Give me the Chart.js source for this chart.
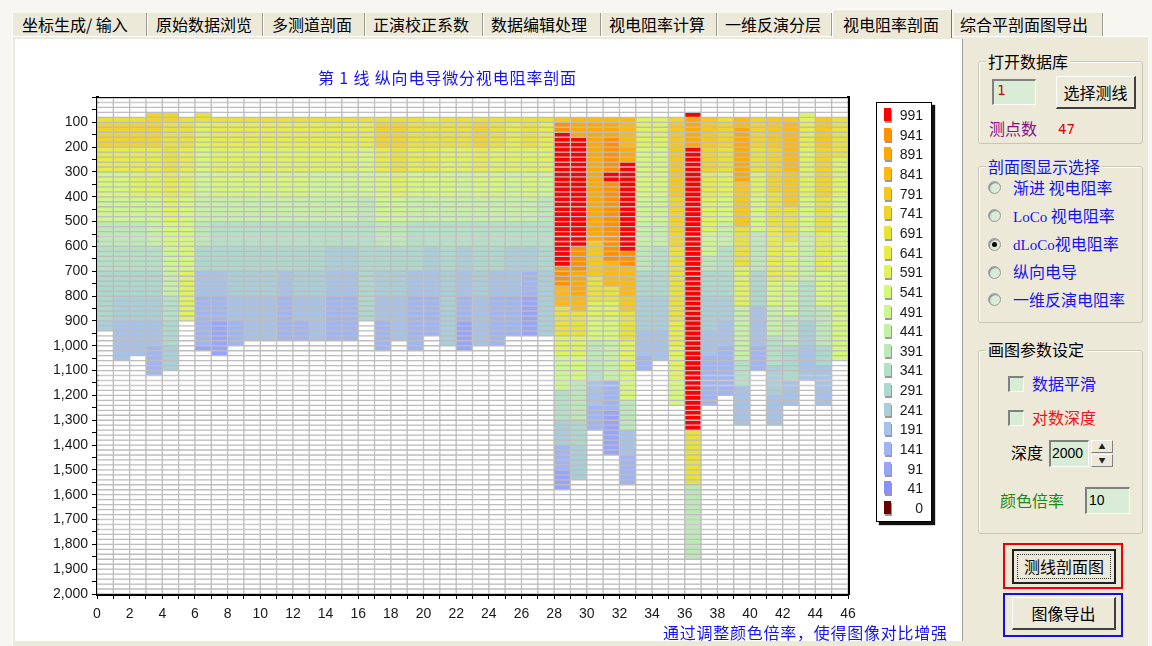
<!DOCTYPE html>
<html><head><meta charset="utf-8">
<script src="https://cdn.jsdelivr.net/npm/chart.js@4.4.1/dist/chart.umd.min.js"></script>
<style>
html,body{margin:0;padding:0}
body{width:1152px;height:646px;background:#F7F6F1;position:relative;overflow:hidden;font-family:"Noto Sans CJK SC","Noto Sans",sans-serif;font-size:16px;color:#000}
.a{position:absolute;white-space:nowrap}
.tab{position:absolute;top:13px;height:23px;line-height:22px;font-size:16px;border-right:1px solid #9A9A90;box-shadow:1px 0 0 #fff;text-align:left}
.tabact{position:absolute;top:9px;height:29px;line-height:28px;font-size:16px;background:#ECE9D8;border:1px solid #fff;border-right:1px solid #777;border-bottom:none;z-index:3}
.grp{position:absolute;border:1px solid #C8C6B8;border-radius:3px;box-shadow:inset 1px 1px 0 #fff}
.gt{position:absolute;background:#ECE9D8;padding:0 2px;line-height:18px}
.inp{position:absolute;background:#D8ECD6;border-top:2px solid #808080;border-left:2px solid #808080;border-bottom:1px solid #fff;border-right:1px solid #fff;box-sizing:border-box}
.btn{position:absolute;background:#ECE9D8;border-top:1px solid #fff;border-left:1px solid #fff;border-right:2px solid #404040;border-bottom:2px solid #404040;box-sizing:border-box;text-align:center}
.sbtn{position:absolute;background:#ECE9D8;border-top:1px solid #fff;border-left:1px solid #fff;border-right:1px solid #808080;border-bottom:1px solid #808080;box-sizing:border-box;text-align:center;font-size:7px;line-height:11px;color:#222}
.rad{position:absolute;width:13px;height:13px;border-radius:50%;background:#D8ECD6;border:1px solid #9A9A9A;box-sizing:border-box;box-shadow:inset 1px 1px 1px #888}
.chk{position:absolute;width:16px;height:16px;background:#D8ECD6;border-top:2px solid #808080;border-left:2px solid #808080;border-bottom:1px solid #fff;border-right:1px solid #fff;box-sizing:border-box}
.lg{position:absolute;font-family:"Liberation Sans",Arial,sans-serif;font-size:14px;color:#1a1a1a;text-align:right;width:36px;line-height:16px}
.sw{position:absolute;width:7px;height:13px;box-shadow:1px 2px 0 #9a9a9a}
</style></head>
<body>
<!-- tab strip -->
<div class="a" style="left:12px;top:36px;width:1135px;height:610px;background:#ECE9D8;border-top:1px solid #fff;border-left:1px solid #fff"></div>
<div class="tab" style="left:12px;width:135px;background:#ECE9D8;border-left:1px solid #fff;padding-left:9px;box-sizing:border-box">坐标生成/ 输入</div>
<div class="tab" style="left:148px;width:115px;background:#ECE9D8;padding-left:8px;box-sizing:border-box">原始数据浏览</div>
<div class="tab" style="left:264px;width:101px;background:#ECE9D8;padding-left:8px;box-sizing:border-box">多测道剖面</div>
<div class="tab" style="left:366px;width:117px;background:#ECE9D8;padding-left:7px;box-sizing:border-box">正演校正系数</div>
<div class="tab" style="left:484px;width:117px;background:#ECE9D8;padding-left:7px;box-sizing:border-box">数据编辑处理</div>
<div class="tab" style="left:602px;width:115px;background:#ECE9D8;padding-left:7px;box-sizing:border-box">视电阻率计算</div>
<div class="tab" style="left:718px;width:114px;background:#ECE9D8;padding-left:7px;box-sizing:border-box">一维反演分层</div>
<div class="tabact" style="left:832px;width:120px;padding-left:10px;box-sizing:border-box">视电阻率剖面</div>
<div class="tab" style="left:954px;width:149px;background:#ECE9D8;padding-left:6px;box-sizing:border-box">综合平剖面图导出</div>

<!-- chart panel -->
<div class="a" style="left:15px;top:39px;width:947px;height:602px;background:#fff">
  <canvas id="c" width="947" height="602" style="position:absolute;left:0;top:0"></canvas>
</div>
<div class="a" style="left:962px;top:39px;width:1px;height:602px;background:#A0A0A0"></div>
<div class="a" id="title" style="left:318px;top:67px;font-size:16px;line-height:20px;letter-spacing:0.85px;color:#1414F0">第 1 线 纵向电导微分视电阻率剖面</div>
<div class="a" style="left:663px;top:622px;font-size:16px;line-height:20px;letter-spacing:0.75px;color:#1414F0">通过调整颜色倍率，使得图像对比增强</div>
<div class="a" id="legend" style="left:876px;top:102px;width:54px;height:418px;background:#fff;border:1px solid #000;box-shadow:3px 3px 1px #111"></div>

<!-- right panel -->
<div class="grp" style="left:978px;top:61px;width:163px;height:81px"></div>
<div class="gt" style="left:986px;top:52px">打开数据库</div>
<div class="inp" style="left:992px;top:79px;width:44px;height:26px"><span style="position:absolute;left:3px;top:1px;color:#E00000;font-family:'DejaVu Sans Mono',monospace;font-size:14px">1</span></div>
<div class="btn" style="left:1056px;top:76px;width:80px;height:33px;line-height:30px">选择测线</div>
<div class="a" style="left:989px;top:118px;color:#8B0B8B;line-height:20px">测点数</div>
<div class="a" style="left:1058px;top:119px;color:#E00000;font-family:'DejaVu Sans Mono',monospace;font-size:14px;line-height:20px">47</div>

<div class="grp" style="left:978px;top:166px;width:163px;height:155px"></div>
<div class="gt" style="left:986px;top:157px;color:#1414F0">剖面图显示选择</div>
<div class="rad" style="left:988px;top:181px"></div>
<div class="a" style="left:1013px;top:177px;color:#1414F0;line-height:20px">渐进 视电阻率</div>
<div class="rad" style="left:988px;top:209px"></div>
<div class="a" style="left:1013px;top:205px;color:#1414F0;line-height:20px"><span style="font-family:'Liberation Serif',serif;font-size:15px">LoCo</span> 视电阻率</div>
<div class="rad" style="left:988px;top:238px"><div style="position:absolute;left:3px;top:3px;width:5px;height:5px;border-radius:50%;background:#000"></div></div>
<div class="a" style="left:1013px;top:233px;color:#1414F0;line-height:20px"><span style="font-family:'Liberation Serif',serif;font-size:15px">dLoCo</span>视电阻率</div>
<div class="rad" style="left:988px;top:266px"></div>
<div class="a" style="left:1013px;top:261px;color:#1414F0;line-height:20px">纵向电导</div>
<div class="rad" style="left:988px;top:293px"></div>
<div class="a" style="left:1013px;top:289px;color:#1414F0;line-height:20px">一维反演电阻率</div>

<div class="grp" style="left:978px;top:350px;width:163px;height:182px"></div>
<div class="gt" style="left:986px;top:340px">画图参数设定</div>
<div class="chk" style="left:1008px;top:376px"></div>
<div class="a" style="left:1032px;top:373px;color:#1414F0;line-height:20px">数据平滑</div>
<div class="chk" style="left:1008px;top:410px"></div>
<div class="a" style="left:1032px;top:407px;color:#F01414;line-height:20px">对数深度</div>
<div class="a" style="left:1011px;top:442px;line-height:20px">深度</div>
<div class="inp" style="left:1049px;top:440px;width:40px;height:27px"><span style="position:absolute;left:1px;top:3px;font-family:'Liberation Sans',Arial,sans-serif;font-size:14px">2000</span></div>
<div class="sbtn" style="left:1091px;top:440px;width:22px;height:13px">▲</div>
<div class="sbtn" style="left:1091px;top:454px;width:22px;height:13px">▼</div>
<div class="a" style="left:1000px;top:490px;color:#1A8A1A;line-height:20px">颜色倍率</div>
<div class="inp" style="left:1085px;top:487px;width:45px;height:27px"><span style="position:absolute;left:2px;top:3px;font-family:'Liberation Sans',Arial,sans-serif;font-size:14px">10</span></div>

<div class="a" style="left:1003px;top:543px;width:116px;height:42px;border:2px solid #F00000"></div>
<div class="btn" style="left:1012px;top:549px;width:104px;height:35px;border:2px solid #202020;line-height:30px"><div style="position:absolute;left:3px;top:3px;right:3px;bottom:3px;border:1px dotted #333"></div>测线剖面图</div>
<div class="a" style="left:1003px;top:593px;width:116px;height:40px;border:2px solid #1010E0"></div>
<div class="btn" style="left:1012px;top:597px;width:104px;height:33px;line-height:30px">图像导出</div>

<script>
// ---------- data ----------
const stations = [0,1,2,3,4,5,6,7,8,9,10,11,12,13,14,15,16,17,18,19,20,21,22,23,24,25,26,27,28,29,30,31,32,33,34,35,36,37,38,39,40,41,42,43,44,45];
const topDepth = [80,80,80,60,60,80,60,80,80,80,80,80,80,80,80,80,80,80,80,80,80,80,80,80,80,80,80,80,80,80,80,80,80,80,80,80,70,80,80,80,80,80,80,60,80,80];
const bottomDepth = [940,1055,1050,1120,1105,895,1025,1040,1005,980,980,980,980,980,980,980,910,1020,990,1015,955,1000,1015,1005,1000,960,970,970,1590,1550,1345,1445,1560,1110,1055,1240,1860,1250,1200,1330,1105,1320,1245,1135,1240,1060];
// segment start depths per station
const segStarts = [
 [80,100,200,300,400,500,600,700,800,900],
 [80,100,200,300,400,500,600,700,800,900,1000],
 [80,100,200,300,400,500,600,700,800,900,1000],
 [60,100,200,300,400,500,600,700,800,900,1000,1100],
 [60,100,200,300,400,500,600,700,800,900,1000,1100],
 [80,100,200,300,400,500,600,700,800],
 [60,100,200,300,400,500,600,700,800,900,1000],
 [80,100,200,300,400,500,600,700,800,900,1000],
 [80,100,200,300,400,500,600,700,800,900,1000],
 [80,100,200,300,400,500,600,700,800,900],
 [80,100,200,300,400,500,600,700,800,900],
 [80,100,200,300,400,500,600,700,800,900],
 [80,100,200,300,400,500,600,700,800,900],
 [80,100,200,300,400,500,600,700,800,900],
 [80,100,200,300,400,500,600,700,800,900],
 [80,100,200,300,400,500,600,700,800,900],
 [80,100,200,300,400,500,600,700,800,900],
 [80,100,200,300,400,500,600,700,800,900,1000],
 [80,100,200,300,400,500,600,700,800,900],
 [80,100,200,300,400,500,600,700,800,900,1000],
 [80,100,200,300,400,500,600,700,800,900],
 [80,100,200,300,400,500,600,700,800,900],
 [80,100,200,300,400,500,600,700,800,900,1000],
 [80,100,200,300,400,500,600,700,800,900,1000],
 [80,100,200,300,400,500,600,700,800,900],
 [80,100,200,300,400,500,600,700,800,900],
 [80,100,200,300,400,500,600,700,800,900],
 [80,100,200,300,400,500,600,700,800,900],
 [80,100,145,680,760,850,960,1040,1180,1300,1400,1500],
 [80,100,170,600,700,800,860,960,1050,1140,1310,1400],
 [80,100,590,720,820,900,990,1100,1150,1250],
 [80,100,170,300,345,670,760,830,900,980,1150,1270],
 [80,200,265,615,690,800,855,975,1100,1215,1340,1450],
 [80,200,400,500,600,700,800,950,1050],
 [80,200,400,500,600,700,800,950],
 [80,100,400,600,900,1000,1150],
 [70,90,205,1340,1560],
 [80,200,300,400,550,650,700,800,950,1050],
 [80,100,200,300,400,500,600,700,800,900,1000],
 [80,120,350,530,690,850,1060,1170],
 [80,200,300,400,550,700,850,1000],
 [80,200,390,530,740,850,960,1090,1200],
 [80,100,310,450,580,740,880,1010,1140],
 [60,100,200,400,550,750,900,1000],
 [80,200,400,550,700,850,1000,1080],
 [80,250,400]
];
// apparent resistivity of each segment
const segValues = [
 [691,741,641,541,491,391,341,291,291,241],
 [691,741,641,541,491,391,341,291,241,191,191],
 [691,741,641,591,491,391,341,291,241,191,191],
 [741,741,641,591,491,441,341,291,241,191,141,141],
 [741,691,691,641,591,541,491,441,341,291,241,241],
 [691,691,641,591,541,541,541,591,591],
 [691,591,541,491,441,391,291,191,141,141,91],
 [691,641,591,541,441,341,291,191,141,91,91],
 [691,641,591,541,441,341,291,241,191,141,141],
 [691,641,591,541,441,341,291,241,191,191],
 [691,641,591,541,441,341,291,241,191,191],
 [691,641,591,541,441,341,291,191,141,141],
 [691,641,591,541,441,341,291,241,191,141],
 [691,641,591,491,441,341,291,241,191,191],
 [691,641,591,491,441,341,241,191,141,141],
 [691,641,591,491,441,341,241,191,141,141],
 [691,641,541,491,391,341,291,291,291,291],
 [691,741,641,541,491,391,291,241,191,141,141],
 [691,741,691,591,491,391,291,241,191,191],
 [691,691,641,541,441,341,291,191,141,141,141],
 [641,691,641,541,441,341,241,191,141,141],
 [691,691,591,541,441,341,291,241,241,241],
 [691,691,591,491,441,341,241,191,141,91,91],
 [691,741,641,541,441,341,291,241,191,191,191],
 [691,691,591,541,441,341,291,191,141,141],
 [691,641,591,491,441,341,241,191,141,141],
 [691,691,591,541,441,341,241,141,91,91],
 [691,641,591,491,391,341,291,241,241,241],
 [791,941,1000,941,841,691,591,491,341,241,141,91],
 [841,891,1000,941,891,841,691,591,541,391,291,241],
 [841,891,791,691,591,541,391,341,191,141],
 [841,891,941,1000,941,841,691,591,541,441,141,91],
 [841,891,1000,941,841,791,691,591,541,391,191,141],
 [591,541,491,441,391,291,241,191,141],
 [591,541,491,441,341,291,241,191],
 [741,791,741,691,641,591,541],
 [1000,891,1000,691,391],
 [791,741,641,591,491,391,291,241,191,141],
 [691,741,691,591,541,441,341,291,241,191,141],
 [841,891,791,691,591,441,341,191],
 [741,691,591,541,391,291,191,141],
 [791,741,691,641,541,441,341,241,191],
 [791,841,791,691,591,491,391,291,191],
 [591,641,591,541,441,341,241,191],
 [791,741,691,641,541,391,291,191],
 [691,591,541]
];
const legendLevels = [991,941,891,841,791,741,691,641,591,541,491,441,391,341,291,241,191,141,91,41,0];
const legendColors = ['#FF0000','#FF9000','#FFA800','#FDB812','#F6C81E','#F0D42C','#E8E23A','#E6EC4A','#DFF45C','#D6F878','#CEF68E','#C6F0A6','#BEE8B8','#B4E0C6','#ACD8CE','#A8CEDA','#A6C2E8','#A0B4F2','#98A4F8','#8A8EF8','#6A0000'];
const depthMax = 2000;
const cellDepth = 20;

// ---------- helpers ----------
function colorFor(v){
  if (v === null) return '#FFFFFF';
  for (let k = 0; k < legendLevels.length; k++) if (v >= legendLevels[k]) return legendColors[k];
  return legendColors[legendColors.length - 1];
}
function valueAt(c, d){
  if (d < topDepth[c] || d >= bottomDepth[c]) return null;
  const s = segStarts[c]; let v = null;
  for (let k = 0; k < s.length; k++) if (d >= s[k]) v = segValues[c][k];
  return v;
}

const datasets = [];
for (let d0 = 0; d0 < depthMax; d0 += cellDepth){
  const mid = d0 + cellDepth / 2;
  datasets.push({
    data: stations.map(s => ({x: s + 0.5, y: [d0, d0 + cellDepth]})),
    backgroundColor: stations.map((s, c) => colorFor(valueAt(c, mid))),
    borderColor: '#BDBDBD', borderWidth: 1, borderSkipped: false,
    grouped: false, barPercentage: 1, categoryPercentage: 1
  });
}

// legend (HTML)
const lg = document.getElementById('legend');
legendLevels.forEach((lv, k) => {
  const y = 12 + k * 19.65;
  const sw = document.createElement('div'); sw.className = 'sw';
  sw.style.left = '7px'; sw.style.top = (y - 7) + 'px'; sw.style.background = legendColors[k];
  lg.appendChild(sw);
  const t = document.createElement('div'); t.className = 'lg';
  t.style.left = '10px'; t.style.top = (y - 8) + 'px'; t.textContent = lv;
  lg.appendChild(t);
});

const tickFont = {family: "'Liberation Sans', Arial, sans-serif", size: 14};
new Chart(document.getElementById('c'), {
  type: 'bar',
  data: {datasets},
  options: {
    responsive: false, animation: false, devicePixelRatio: 1,
    layout: {padding: {top: 58.5, right: 114, left: 0, bottom: 0}},
    plugins: {legend: {display: false}, tooltip: {enabled: false}, title: {display: false}},
    scales: {
      x: {type: 'linear', position: 'bottom', min: 0, max: 46, offset: false,
          ticks: {stepSize: 1, autoSkip: false, maxRotation: 0, color: '#1a1a1a', font: tickFont, padding: 7,
                  callback: v => (v % 2 === 0 ? String(v) : '')},
          grid: {display: true, drawOnChartArea: false, tickLength: 5, tickColor: '#000', offset: false},
          border: {display: true, color: '#000', width: 3},
          afterFit: s => { s.height = 47; }},
      xTop: {type: 'linear', position: 'top', min: 0, max: 46, display: true,
          ticks: {display: false}, grid: {display: false},
          border: {display: true, color: '#000', width: 2},
          afterFit: s => { s.height = 0; }},
      y: {type: 'linear', position: 'left', reverse: true, min: 0, max: depthMax,
          ticks: {stepSize: 50, autoSkip: false, color: '#1a1a1a', font: tickFont, padding: 4,
                  callback: v => (v > 0 && v % 100 === 0 ? v.toLocaleString('en-US') : '')},
          grid: {display: true, drawOnChartArea: false, tickLength: 5, tickColor: '#000'},
          border: {display: true, color: '#000', width: 3},
          afterFit: s => { s.width = 82; }},
      yRight: {type: 'linear', position: 'right', min: 0, max: depthMax, display: true,
          ticks: {display: false}, grid: {display: false},
          border: {display: true, color: '#000', width: 3},
          afterFit: s => { s.width = 0; }}
    }
  }
});
</script>
</body></html>
